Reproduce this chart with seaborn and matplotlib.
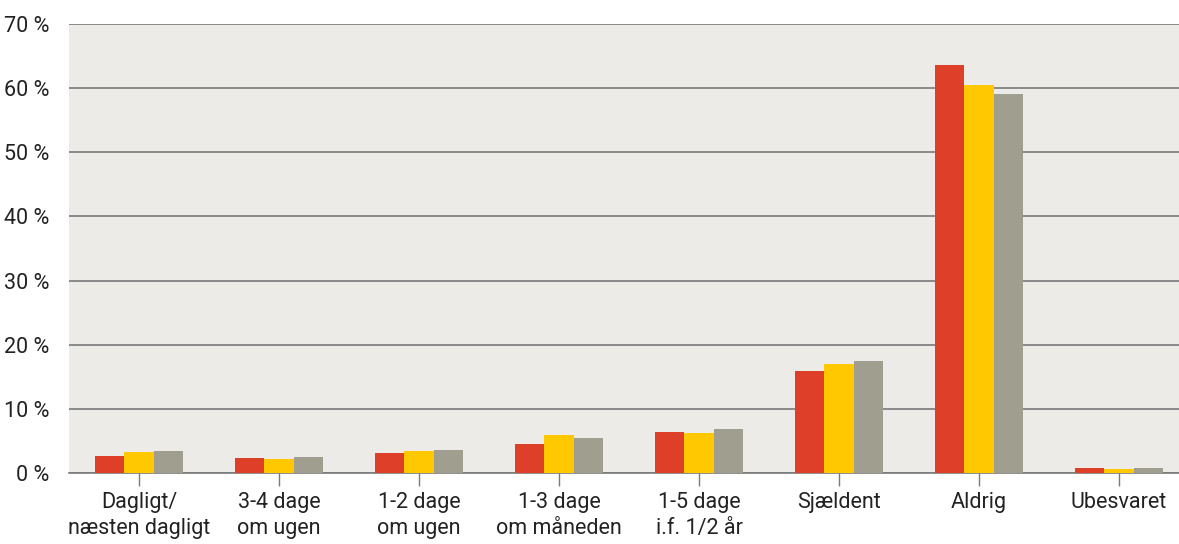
import matplotlib
matplotlib.use("Agg")
import matplotlib.pyplot as plt
import seaborn as sns
import pandas as pd

categories = ["Dagligt/\nnæsten dagligt", "3-4 dage\nom ugen", "1-2 dage\nom ugen",
              "1-3 dage\nom måneden", "1-5 dage\ni.f. 1/2 år", "Sjældent", "Aldrig", "Ubesvaret"]
series_names = ["A", "B", "C"]
values_a = [2.7, 2.3, 3.1, 4.5, 6.4, 15.9, 63.6, 0.8]
values_b = [3.3, 2.2, 3.4, 5.9, 6.2, 17.0, 60.5, 0.6]
values_c = [3.4, 2.5, 3.6, 5.5, 6.9, 17.5, 59.1, 0.8]
yticks = [0, 10, 20, 30, 40, 50, 60, 70]
ytick_labels = ["0 %", "10 %", "20 %", "30 %", "40 %", "50 %", "60 %", "70 %"]
colors = ["#DE3F28", "#FFC800", "#A09E8E"]

rows = []
for name, vals in zip(series_names, [values_a, values_b, values_c]):
    for c, v in zip(categories, vals):
        rows.append({"cat": c, "series": name, "value": v})
df = pd.DataFrame(rows)

sns.set_theme(style="white")
plt.rcParams["font.family"] = ["Roboto", "DejaVu Sans"]

fig = plt.figure(figsize=(11.79, 5.44), dpi=100)
ax = fig.add_axes([69 / 1179, 71 / 544, 1120 / 1179, 449 / 544])
ax.set_facecolor("#EDEBE7")

sns.barplot(data=df, x="cat", y="value", hue="series", order=categories,
            hue_order=series_names, palette=colors, width=0.63, saturation=1,
            legend=False, ax=ax, zorder=3)
for p in ax.patches:
    p.set_edgecolor("none")

ax.set_xlim(-0.5, 7.5)
ax.set_ylim(0, 70)
ax.set_yticks(yticks)
ax.set_yticklabels(ytick_labels)
ax.yaxis.grid(True, color="#7A7A7A", linewidth=1.2, zorder=1)
ax.set_axisbelow(True)
for s in ["top", "right", "left"]:
    ax.spines[s].set_visible(False)
ax.spines["bottom"].set_color("#7A7A7A")
ax.spines["bottom"].set_linewidth(1.2)
ax.tick_params(axis="x", bottom=True, length=9, width=1, color="#7A7A7A",
               labelsize=15.5, pad=5, labelcolor="#222222")
ax.tick_params(axis="y", left=False, labelsize=15.5, pad=8, labelcolor="#222222")
for lbl in ax.get_xticklabels():
    lbl.set_linespacing(1.3)
ax.set_xlabel("")
ax.set_ylabel("")

fig.savefig("out.png", dpi=100, facecolor="white")
